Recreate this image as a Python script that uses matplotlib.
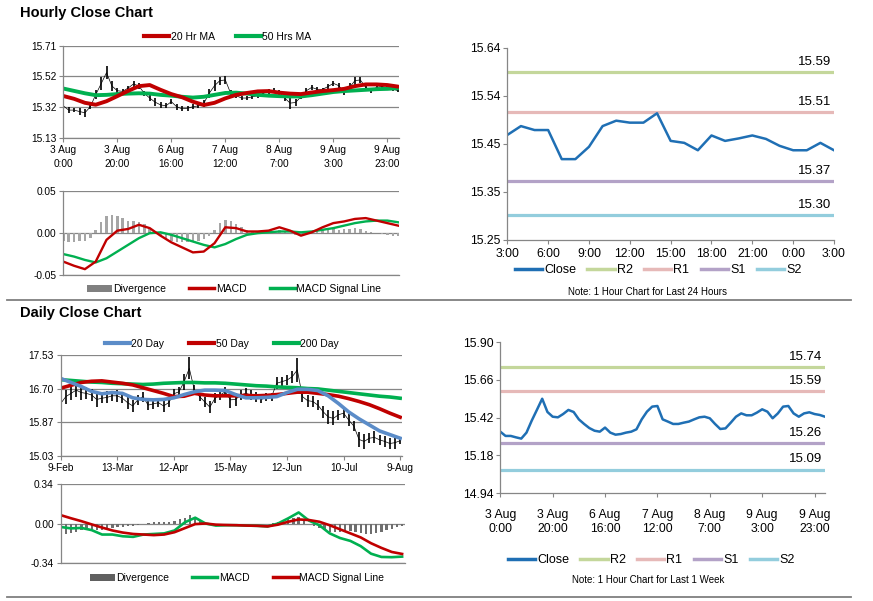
import numpy as np
import matplotlib.pyplot as plt
from matplotlib.lines import Line2D
from matplotlib.patches import Patch

plt.rcParams['font.family'] = ['Liberation Sans', 'DejaVu Sans']
plt.rcParams['font.size'] = 7
NARROW = ['Liberation Sans Narrow', 'Liberation Sans', 'DejaVu Sans']

RED = '#C00000'
GREEN = '#00B050'
BLUE_MA = '#5B8CC8'
CLOSE_BLUE = '#1F6FB4'
GRID = '#868686'
PIVOT_COLS = ['#C4D79B', '#E6B9B8', '#B3A2C7', '#93CDDD']
PIVOT_NAMES = ['R2', 'R1', 'S1', 'S2']

# ---- hourly data, last week (one value every 2nd hour) ----
hourly_labels = ['3 Aug\n0:00', '3 Aug\n20:00', '6 Aug\n16:00', '7 Aug\n12:00',
                 '8 Aug\n7:00', '9 Aug\n3:00', '9 Aug\n23:00']
hourly_close = [15.331, 15.304, 15.304, 15.295, 15.287, 15.325, 15.401, 15.470, 15.540, 15.456,
                15.426, 15.422, 15.443, 15.469, 15.456, 15.409, 15.380, 15.354, 15.337, 15.331,
                15.357, 15.325, 15.312, 15.316, 15.325, 15.331, 15.346, 15.409, 15.458, 15.490,
                15.494, 15.409, 15.395, 15.380, 15.380, 15.388, 15.395, 15.409, 15.422, 15.426,
                15.416, 15.380, 15.348, 15.352, 15.388, 15.426, 15.447, 15.435, 15.435, 15.452,
                15.473, 15.458, 15.416, 15.447, 15.490, 15.494, 15.447, 15.426, 15.447, 15.454,
                15.443, 15.437, 15.426]
hourly_range = [0.03, 0.04, 0.03, 0.04, 0.05, 0.03, 0.06, 0.08, 0.08, 0.06,
                0.04, 0.03, 0.03, 0.04, 0.04, 0.03, 0.04, 0.05, 0.04, 0.03,
                0.03, 0.04, 0.03, 0.03, 0.03, 0.03, 0.04, 0.06, 0.07, 0.05,
                0.05, 0.04, 0.03, 0.03, 0.03, 0.03, 0.03, 0.02, 0.03, 0.03,
                0.03, 0.04, 0.07, 0.04, 0.03, 0.03, 0.03, 0.03, 0.02, 0.03,
                0.03, 0.03, 0.03, 0.05, 0.05, 0.04, 0.04, 0.03, 0.03, 0.02,
                0.03, 0.03, 0.02]
# moving averages and MACD (one value every 4th hour)
ma20_hr = [15.393, 15.375, 15.350, 15.338, 15.360, 15.392, 15.425, 15.455, 15.462, 15.432,
           15.405, 15.385, 15.357, 15.336, 15.350, 15.378, 15.400, 15.412, 15.422, 15.424,
           15.414, 15.408, 15.405, 15.415, 15.424, 15.430, 15.438, 15.455, 15.466, 15.466,
           15.462, 15.452]
ma50_hr = [15.440, 15.425, 15.410, 15.398, 15.400, 15.405, 15.408, 15.410, 15.408, 15.400,
           15.395, 15.388, 15.383, 15.388, 15.400, 15.412, 15.414, 15.408, 15.400, 15.395,
           15.392, 15.390, 15.390, 15.398, 15.408, 15.418, 15.424, 15.428, 15.432, 15.436,
           15.438, 15.442]
macd_hr = [-0.034, -0.039, -0.043, -0.034, -0.008, 0.003, 0.005, 0.010, 0.006, -0.003,
           -0.011, -0.017, -0.023, -0.022, -0.012, 0.007, 0.006, 0.002, 0.002, 0.003,
           0.007, 0.003, -0.003, 0.001, 0.007, 0.012, 0.014, 0.017, 0.018, 0.015,
           0.012, 0.009]
signal_hr = [-0.025, -0.028, -0.032, -0.035, -0.030, -0.022, -0.014, -0.006, 0.000, 0.001,
             -0.002, -0.006, -0.010, -0.014, -0.017, -0.013, -0.007, -0.002, 0.000, 0.001,
             0.002, 0.002, 0.001, 0.002, 0.004, 0.006, 0.009, 0.012, 0.014, 0.015,
             0.015, 0.013]
# divergence (every 2nd hour)
diverg_hr = [-0.009, -0.010, -0.010, -0.009, -0.009, -0.006, 0.004, 0.013, 0.021, 0.022,
             0.020, 0.018, 0.015, 0.014, 0.013, 0.011, 0.006, 0.002, -0.004, -0.007,
             -0.009, -0.010, -0.010, -0.010, -0.010, -0.009, -0.007, -0.004, 0.004, 0.012,
             0.016, 0.014, 0.011, 0.007, 0.004, 0.002, 0.002, 0.002, 0.003, 0.003,
             0.004, 0.002, 0.000, -0.002, -0.003, -0.001, 0.002, 0.004, 0.004, 0.004,
             0.005, 0.004, 0.005, 0.005, 0.006, 0.005, 0.002, 0.001, 0.000, -0.001,
             -0.002, -0.003, -0.003]

# ---- last 24 hours ----
hours_24 = ['3:00', '6:00', '9:00', '12:00', '15:00', '18:00', '21:00', '0:00', '3:00']
close_24h = [15.463, 15.481, 15.473, 15.473, 15.414, 15.414, 15.439, 15.481, 15.492, 15.488,
             15.488, 15.507, 15.451, 15.447, 15.432, 15.462, 15.451, 15.456, 15.462, 15.455,
             15.441, 15.432, 15.432, 15.447, 15.432]
pivots_24h = [15.59, 15.51, 15.37, 15.30]
pivots_week = [15.74, 15.59, 15.26, 15.09]

# ---- daily data (one value every 2nd day) ----
daily_labels = ['9-Feb', '13-Mar', '12-Apr', '15-May', '12-Jun', '10-Jul', '9-Aug']
daily_close = [16.33, 16.50, 16.58, 16.66, 16.60, 16.58, 16.54, 16.43, 16.46, 16.48,
               16.52, 16.52, 16.46, 16.35, 16.27, 16.42, 16.50, 16.29, 16.32, 16.35,
               16.27, 16.35, 16.57, 16.62, 16.87, 17.20, 16.66, 16.50, 16.37, 16.24,
               16.46, 16.54, 16.62, 16.42, 16.43, 16.54, 16.58, 16.54, 16.50, 16.43,
               16.48, 16.50, 16.83, 16.87, 16.91, 16.99, 17.16, 16.50, 16.40, 16.38,
               16.29, 16.13, 16.00, 15.96, 16.05, 16.09, 15.92, 15.77, 15.44, 15.39,
               15.47, 15.49, 15.43, 15.39, 15.34, 15.36, 15.41]
daily_range = [0.45, 0.35, 0.35, 0.35, 0.35, 0.30, 0.30, 0.35, 0.25, 0.30,
               0.25, 0.30, 0.25, 0.30, 0.30, 0.25, 0.25, 0.25, 0.25, 0.20,
               0.30, 0.20, 0.25, 0.25, 0.40, 0.55, 0.25, 0.20, 0.25, 0.30,
               0.25, 0.25, 0.25, 0.40, 0.30, 0.25, 0.25, 0.25, 0.25, 0.20,
               0.20, 0.20, 0.30, 0.25, 0.25, 0.30, 0.60, 0.25, 0.30, 0.25,
               0.25, 0.30, 0.35, 0.35, 0.25, 0.25, 0.30, 0.25, 0.35, 0.35,
               0.25, 0.30, 0.25, 0.25, 0.25, 0.30, 0.15]
# moving averages and MACD (one value every 4th day)
ma20_d = [16.95, 16.85, 16.75, 16.63, 16.57, 16.60, 16.58, 16.47, 16.43, 16.42,
          16.43, 16.47, 16.55, 16.62, 16.66, 16.66, 16.65, 16.55, 16.47, 16.47,
          16.48, 16.50, 16.60, 16.68, 16.68, 16.65, 16.52, 16.33, 16.12, 15.95,
          15.80, 15.65, 15.56, 15.47]
ma50_d = [16.71, 16.78, 16.85, 16.88, 16.89, 16.86, 16.83, 16.79, 16.72, 16.65,
          16.58, 16.50, 16.51, 16.58, 16.54, 16.52, 16.52, 16.52, 16.53, 16.52,
          16.53, 16.55, 16.58, 16.61, 16.61, 16.58, 16.55, 16.51, 16.45, 16.38,
          16.30, 16.20, 16.09, 15.99]
ma200_d = [16.92, 16.90, 16.88, 16.86, 16.85, 16.83, 16.82, 16.81, 16.80, 16.81,
           16.83, 16.84, 16.85, 16.85, 16.84, 16.84, 16.83, 16.81, 16.79, 16.77,
           16.76, 16.74, 16.73, 16.72, 16.70, 16.69, 16.66, 16.63, 16.60, 16.57,
           16.54, 16.51, 16.49, 16.46]
macd_d = [-0.030, -0.042, -0.038, -0.057, -0.095, -0.095, -0.110, -0.115, -0.095, -0.090,
          -0.085, -0.060, 0.010, 0.050, 0.000, -0.018, -0.015, -0.015, -0.018, -0.020,
          -0.025, 0.000, 0.045, 0.095, 0.025, -0.015, -0.085, -0.125, -0.150, -0.195,
          -0.260, -0.288, -0.290, -0.285]
signal_d = [0.072, 0.045, 0.020, -0.008, -0.035, -0.060, -0.078, -0.090, -0.095, -0.100,
            -0.095, -0.075, -0.040, -0.005, 0.000, -0.010, -0.013, -0.015, -0.018, -0.020,
            -0.025, -0.010, 0.015, 0.035, 0.030, 0.015, -0.015, -0.050, -0.085, -0.120,
            -0.170, -0.210, -0.245, -0.262]
diverg_d = [-0.100, -0.090, -0.085, -0.070, -0.060, -0.050, -0.050, -0.055, -0.055, -0.045,
            -0.035, -0.030, -0.030, -0.025, -0.020, -0.015, -0.005, 0.005, 0.010, 0.010,
            0.010, 0.015, 0.020, 0.035, 0.050, 0.070, 0.055, 0.020, 0.000, -0.005,
            -0.008, -0.005, -0.002, 0.000, 0.000, 0.000, 0.000, 0.000, 0.000, 0.000,
            0.000, 0.005, 0.010, 0.025, 0.035, 0.050, 0.060, 0.020, -0.005, -0.020,
            -0.035, -0.055, -0.070, -0.075, -0.075, -0.070, -0.065, -0.075, -0.085, -0.090,
            -0.090, -0.080, -0.075, -0.060, -0.045, -0.030, -0.020]

h2 = np.arange(len(hourly_close)) * 2
h4 = np.arange(len(ma20_hr)) * 4
d2 = np.arange(len(daily_close)) * 2
d4 = np.arange(len(ma20_d)) * 4
t24 = np.arange(len(close_24h))

W, H = 873, 601
fig = plt.figure(figsize=(W / 100, H / 100), dpi=100)


def box(x0, y0, x1, y1):
    # pixel box -> figure fraction
    return [x0 / W, 1 - y1 / H, (x1 - x0) / W, (y1 - y0) / H]


def style(ax, grid=True):
    for s in ['top', 'right']:
        ax.spines[s].set_visible(False)
    for s in ['left', 'bottom']:
        ax.spines[s].set_color(GRID)
        ax.spines[s].set_linewidth(0.9)
    ax.tick_params(direction='out', length=3, width=0.8, color=GRID, labelsize=7.3, pad=2)
    if grid:
        ax.yaxis.grid(True, color=GRID, lw=0.9)
        ax.set_axisbelow(True)


def fig_legend(handles, labels, cx, cy, ncol, fontsize=7.5, family=None, colsp=2.0, hl=2.4):
    leg = fig.legend(handles, labels, loc='center', bbox_to_anchor=(cx / W, 1 - cy / H),
                     ncol=ncol, frameon=False, fontsize=fontsize, handlelength=hl,
                     handletextpad=0.15, columnspacing=colsp, borderpad=0, borderaxespad=0)
    if family:
        for t in leg.get_texts():
            t.set_family(family)
    return leg


# titles and separators
fig.text(20 / W, 1 - 13 / H, 'Hourly Close Chart', fontsize=10.5, fontweight='bold', va='center')
fig.text(20 / W, 1 - 313 / H, 'Daily Close Chart', fontsize=10.5, fontweight='bold', va='center')
for yy in [300, 597]:
    fig.add_artist(Line2D([7 / W, 851 / W], [1 - yy / H] * 2, color='#7F7F7F', lw=1.3))

# ---- hourly price with MAs ----
ax1 = fig.add_axes(box(63.3, 45.7, 399.5, 137.7))
style(ax1)
c = np.array(hourly_close)
r = np.array(hourly_range)
ax1.vlines(h2, c - r / 2, c + r / 2, color='black', lw=1.2)
ax1.plot(h2, c, color='black', lw=0.5)
ax1.plot(h4, ma50_hr, color=GREEN, lw=2.8, solid_capstyle='round')
ax1.plot(h4, ma20_hr, color=RED, lw=2.8, solid_capstyle='round')
ax1.set_xlim(0, 124.5)
ax1.set_ylim(15.13, 15.71)
ax1.set_yticks(np.linspace(15.13, 15.71, 4))
ax1.set_yticklabels(['15.13', '15.32', '15.52', '15.71'])
ax1.set_xticks(np.arange(len(hourly_labels)) * 20)
ax1.set_xticklabels(hourly_labels, linespacing=1.5)
fig_legend([Line2D([], [], color=RED, lw=3), Line2D([], [], color=GREEN, lw=3)],
           ['20 Hr MA', '50 Hrs MA'], 228, 37, 2)

# ---- hourly MACD ----
ax2 = fig.add_axes(box(63.3, 191.3, 399.5, 275))
style(ax2)
ax2.bar(h2, diverg_hr, width=0.9, color='#A6A6A6')
ax2.plot(h4, signal_hr, color=GREEN, lw=1.7)
ax2.plot(h4, macd_hr, color=RED, lw=1.7)
ax2.set_xlim(0, 124.5)
ax2.set_ylim(-0.05, 0.05)
ax2.set_yticks([-0.05, 0, 0.05])
ax2.set_yticklabels(['-0.05', '0.00', '0.05'])
ax2.set_xticks([])
fig_legend([Patch(facecolor='#808080'), Line2D([], [], color=RED, lw=2.5),
            Line2D([], [], color=GREEN, lw=2.5)],
           ['Divergence', 'MACD', 'MACD Signal Line'], 234, 289, 3, colsp=2.2)

# ---- last 24 hours with pivots ----
ax3 = fig.add_axes(box(507.3, 47.7, 834, 240))
style(ax3, grid=False)
for val, col in zip(pivots_24h, PIVOT_COLS):
    ax3.axhline(val, color=col, lw=2.3)
    ax3.annotate('%.2f' % val, xy=(1, val), xycoords=('axes fraction', 'data'),
                 xytext=(-2, 3), textcoords='offset points', ha='right', va='bottom',
                 fontsize=9.5, family=NARROW)
ax3.plot(t24, close_24h, color=CLOSE_BLUE, lw=1.8)
ax3.set_xlim(0, 24)
ax3.set_ylim(15.25, 15.64)
ax3.set_yticks(np.linspace(15.25, 15.64, 5))
ax3.set_yticklabels(['15.25', '15.35', '15.45', '15.54', '15.64'])
ax3.set_xticks(np.arange(len(hours_24)) * 3)
ax3.set_xticklabels(hours_24)
ax3.tick_params(axis='x', pad=3)
for lbl in ax3.get_xticklabels() + ax3.get_yticklabels():
    lbl.set_family(NARROW)
    lbl.set_fontsize(8.8)
piv_handles = [Line2D([], [], color=CLOSE_BLUE, lw=2.5)] + \
              [Line2D([], [], color=col, lw=2.5) for col in PIVOT_COLS]
fig_legend(piv_handles, ['Close'] + PIVOT_NAMES, 658, 270, 5, fontsize=9, family=NARROW,
           colsp=0.9, hl=2.2)
fig.text(648 / W, 1 - 292 / H, 'Note: 1 Hour Chart for Last 24 Hours', ha='center', va='center',
         fontsize=7, family=NARROW)

# ---- daily price with MAs ----
ax4 = fig.add_axes(box(60.7, 355, 401.7, 456))
style(ax4)
dc = np.array(daily_close)
dr = np.array(daily_range)
ax4.vlines(d2, dc - dr / 2, dc + dr / 2, color='black', lw=1.2)
ax4.plot(d2, dc, color='black', lw=0.5)
ax4.plot(d4, ma200_d, color=GREEN, lw=2.6)
ax4.plot(d4, ma50_d, color=RED, lw=2.6)
ax4.plot(d4, ma20_d, color=BLUE_MA, lw=2.6)
ax4.set_xlim(0, 132.6)
ax4.set_ylim(15.03, 17.53)
ax4.set_yticks(np.linspace(15.03, 17.53, 4))
ax4.set_yticklabels(['15.03', '15.87', '16.70', '17.53'])
ax4.set_xticks(np.arange(len(daily_labels)) * 22)
ax4.set_xticklabels(daily_labels)
fig_legend([Line2D([], [], color=BLUE_MA, lw=3), Line2D([], [], color=RED, lw=3),
            Line2D([], [], color=GREEN, lw=3)],
           ['20 Day', '50 Day', '200 Day'], 222, 344, 3, colsp=2.4)

# ---- daily MACD ----
ax5 = fig.add_axes(box(60.7, 484, 404.7, 563))
style(ax5)
ax5.bar(d2, diverg_d, width=0.9, color='#6E6E6E')
ax5.plot(d4, macd_d, color=GREEN, lw=1.9)
ax5.plot(d4, signal_d, color=RED, lw=1.9)
ax5.set_xlim(0, 133)
ax5.set_ylim(-0.34, 0.34)
ax5.set_yticks([-0.34, 0, 0.34])
ax5.set_yticklabels(['-0.34', '0.00', '0.34'])
ax5.set_xticks([])
fig_legend([Patch(facecolor='#606060'), Line2D([], [], color=GREEN, lw=2.5),
            Line2D([], [], color=RED, lw=2.5)],
           ['Divergence', 'MACD', 'MACD Signal Line'], 237, 578, 3, colsp=2.2)

# ---- last week close with pivots ----
ax6 = fig.add_axes(box(500.3, 342, 825, 493.3))
style(ax6, grid=False)
for val, col in zip(pivots_week, PIVOT_COLS):
    ax6.axhline(val, color=col, lw=2.3)
    ax6.annotate('%.2f' % val, xy=(1, val), xycoords=('axes fraction', 'data'),
                 xytext=(-2, 3), textcoords='offset points', ha='right', va='bottom',
                 fontsize=9.5, family=NARROW)
ax6.plot(h2, hourly_close, color=CLOSE_BLUE, lw=1.8)
ax6.set_xlim(0, 124)
ax6.set_ylim(14.94, 15.90)
ax6.set_yticks(np.linspace(14.94, 15.90, 5))
ax6.set_yticklabels(['14.94', '15.18', '15.42', '15.66', '15.90'])
ax6.set_xticks(np.arange(len(hourly_labels)) * 20)
ax6.set_xticklabels(hourly_labels, linespacing=1.3)
ax6.tick_params(axis='x', pad=8)
for lbl in ax6.get_xticklabels() + ax6.get_yticklabels():
    lbl.set_family(NARROW)
    lbl.set_fontsize(8.8)
fig_legend(piv_handles, ['Close'] + PIVOT_NAMES, 651, 560, 5, fontsize=9, family=NARROW,
           colsp=0.9, hl=2.2)
fig.text(648 / W, 1 - 580 / H, 'Note: 1 Hour Chart for Last 1 Week', ha='center', va='center',
         fontsize=7, family=NARROW)

fig.savefig('out.png', dpi=100, facecolor='white')
